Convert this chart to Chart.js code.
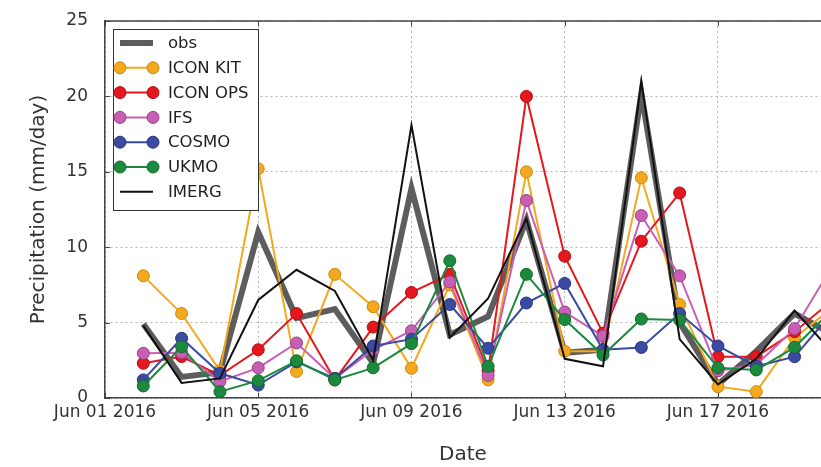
<!DOCTYPE html>
<html>
<head>
<meta charset="utf-8">
<script src="https://cdn.jsdelivr.net/npm/chart.js@4.4.1/dist/chart.umd.min.js"></script>
<style>
  html, body { margin: 0; padding: 0; background: #fff; }
  #wrap { width: 821px; height: 467px; }
</style>
</head>
<body>
<div id="wrap"><canvas id="chart" width="821" height="467"></canvas></div>
<script>
// days counted from Jun 01 2016 (0 = Jun 01), data runs Jun 02 .. Jun 20
const days = [1, 2, 3, 4, 5, 6, 7, 8, 9, 10, 11, 12, 13, 14, 15, 16, 17, 18, 19]
const tickDays = [0, 4, 8, 12, 16]
const tickLabels = ['Jun 01 2016', 'Jun 05 2016', 'Jun 09 2016', 'Jun 13 2016', 'Jun 17 2016']

// precipitation (mm/day)
const obs      = [4.9, 1.4, 1.7, 11.0, 5.3, 5.9, 2.3, 13.9, 4.2, 5.4, 11.8, 3.0, 3.2, 20.2, 5.0, 0.9, 3.1, 5.6, 4.2]
const iconKit  = [8.1, 5.6, 1.8, 15.2, 1.75, 8.2, 6.05, 1.97, 7.5, 1.2, 15.0, 3.1, 3.1, 14.6, 6.2, 0.75, 0.42, 4.0, 6.0]
const iconOps  = [2.3, 2.75, 1.5, 3.2, 5.6, 1.2, 4.7, 7.0, 8.2, 1.8, 20.0, 9.4, 4.3, 10.4, 13.6, 2.74, 2.74, 4.4, 6.5]
const ifs      = [2.96, 3.0, 1.1, 2.0, 3.65, 1.3, 3.2, 4.46, 7.7, 1.5, 13.1, 5.7, 4.1, 12.1, 8.1, 1.8, 2.2, 4.6, 8.8]
const cosmo    = [1.2, 3.96, 1.64, 0.86, 2.4, 1.3, 3.45, 3.9, 6.2, 3.3, 6.3, 7.6, 3.2, 3.35, 5.6, 3.45, 2.1, 2.74, 5.7]
const ukmo     = [0.8, 3.4, 0.42, 1.15, 2.47, 1.2, 2.0, 3.6, 9.1, 2.1, 8.2, 5.2, 2.85, 5.24, 5.17, 2.0, 1.86, 3.36, 5.9]
const imerg    = [4.8, 1.0, 1.3, 6.5, 8.5, 7.1, 2.5, 18.1, 4.0, 6.6, 11.9, 2.6, 2.1, 21.0, 3.9, 0.9, 2.6, 5.8, 3.0]

Chart.defaults.font.family = "'DejaVu Sans', sans-serif"
Chart.defaults.color = '#333'

const toXY = (vals) => vals.map((v, i) => ({x: days[i], y: v}))

// model series with markers
function modelSet(label, vals, color, edge, order) {
    return {
        label: label,
        data: toXY(vals),
        borderColor: color,
        backgroundColor: color,
        borderWidth: 2,
        pointRadius: 6,
        pointBackgroundColor: color,
        pointBorderColor: edge,
        pointBorderWidth: 1,
        order: order,
        marker: true
    }
}

const datasets = [
    {
        label: 'obs',
        data: toXY(obs),
        borderColor: 'rgba(75,75,75,0.9)',
        backgroundColor: 'rgba(75,75,75,0.9)',
        borderWidth: 6,
        pointRadius: 0,
        order: 6
    },
    modelSet('ICON KIT', iconKit, '#f4a81d', '#c88a10', 5),
    modelSet('ICON OPS', iconOps, '#e3171c', '#b01015', 4),
    modelSet('IFS', ifs, '#c95fb4', '#9a4088', 3),
    modelSet('COSMO', cosmo, '#3b4aa3', '#2a367c', 2),
    modelSet('UKMO', ukmo, '#1b8a3d', '#136a2d', 1),
    {
        label: 'IMERG',
        data: toXY(imerg),
        borderColor: '#111',
        backgroundColor: '#111',
        borderWidth: 2,
        pointRadius: 0,
        order: 0
    }
]

// top frame line, inner tick marks and the legend box
const frameAndLegend = {
    id: 'frameAndLegend',
    afterDraw(chart) {
        const ctx = chart.ctx
        const a = chart.chartArea
        ctx.save()
        ctx.strokeStyle = '#444'
        ctx.lineWidth = 1.5
        ctx.beginPath()
        ctx.moveTo(a.left, a.top)
        ctx.lineTo(a.right, a.top)
        ctx.stroke()

        // inner ticks
        ctx.lineWidth = 1
        ctx.beginPath()
        for (const t of chart.scales.y.ticks) {
            let py = Math.round(chart.scales.y.getPixelForValue(t.value)) + 0.5
            ctx.moveTo(a.left, py)
            ctx.lineTo(a.left + 5, py)
        }
        for (const t of chart.scales.x.ticks) {
            let px = Math.round(chart.scales.x.getPixelForValue(t.value)) + 0.5
            ctx.moveTo(px, a.bottom)
            ctx.lineTo(px, a.bottom - 5)
            ctx.moveTo(px, a.top)
            ctx.lineTo(px, a.top + 5)
        }
        ctx.stroke()

        // legend
        const x0 = a.left + 8, y0 = a.top + 8
        const w = 145, h = 181
        ctx.fillStyle = '#fff'
        ctx.fillRect(x0, y0, w, h)
        ctx.strokeStyle = '#333'
        ctx.lineWidth = 1
        ctx.strokeRect(x0 + 0.5, y0 + 0.5, w, h)

        ctx.font = "16.5px 'DejaVu Sans'"
        ctx.textBaseline = 'middle'
        ctx.textAlign = 'left'
        chart.data.datasets.forEach((ds, i) => {
            let cy = y0 + 14 + i * 24.8
            let lx1 = x0 + 7, lx2 = x0 + 40
            ctx.strokeStyle = ds.borderColor
            ctx.lineWidth = ds.borderWidth
            ctx.beginPath()
            ctx.moveTo(lx1, cy)
            ctx.lineTo(lx2, cy)
            ctx.stroke()
            if (ds.marker) {
                for (const mx of [lx1, lx2]) {
                    ctx.beginPath()
                    ctx.arc(mx, cy, 6, 0, Math.PI * 2)
                    ctx.fillStyle = ds.pointBackgroundColor
                    ctx.fill()
                    ctx.lineWidth = 1
                    ctx.strokeStyle = ds.pointBorderColor
                    ctx.stroke()
                }
            }
            ctx.fillStyle = '#222'
            ctx.fillText(ds.label, x0 + 55, cy + 1)
        })
        ctx.restore()
    }
}

const myChart = new Chart(document.getElementById('chart'), {
    type: 'line',
    data: {datasets: datasets},
    plugins: [frameAndLegend],
    options: {
        responsive: false,
        animation: false,
        devicePixelRatio: 1,
        layout: {autoPadding: false, padding: {top: 21, right: 0, bottom: 0, left: 0}},
        plugins: {
            legend: {display: false},
            tooltip: {enabled: false}
        },
        scales: {
            x: {
                type: 'linear',
                min: 0,
                max: 18.69,
                afterBuildTicks: (s) => { s.ticks = tickDays.map(v => ({value: v})) },
                afterFit: (s) => { s.height = 69 },
                ticks: {
                    autoSkip: false,
                    maxRotation: 0,
                    padding: 4,
                    font: {size: 17},
                    callback: (v) => tickLabels[tickDays.indexOf(v)] || ''
                },
                grid: {color: '#b5b5b5', lineWidth: 1, drawTicks: false},
                border: {color: '#444', width: 1.5, dash: [2, 3]},
                title: {display: true, text: 'Date', font: {size: 20}, color: '#333', padding: {top: 2, bottom: 0}}
            },
            y: {
                min: 0,
                max: 25,
                afterFit: (s) => { s.width = 105; s.paddingTop = 0; s.paddingBottom = 0 },
                ticks: {stepSize: 5, padding: 17, font: {size: 17}},
                grid: {color: '#b5b5b5', lineWidth: 1, drawTicks: false},
                border: {color: '#444', width: 1.5, dash: [2, 3]},
                title: {display: true, text: 'Precipitation (mm/day)', font: {size: 20}, color: '#333', padding: {top: 27, bottom: 0}}
            }
        }
    }
})
</script>
</body>
</html>
